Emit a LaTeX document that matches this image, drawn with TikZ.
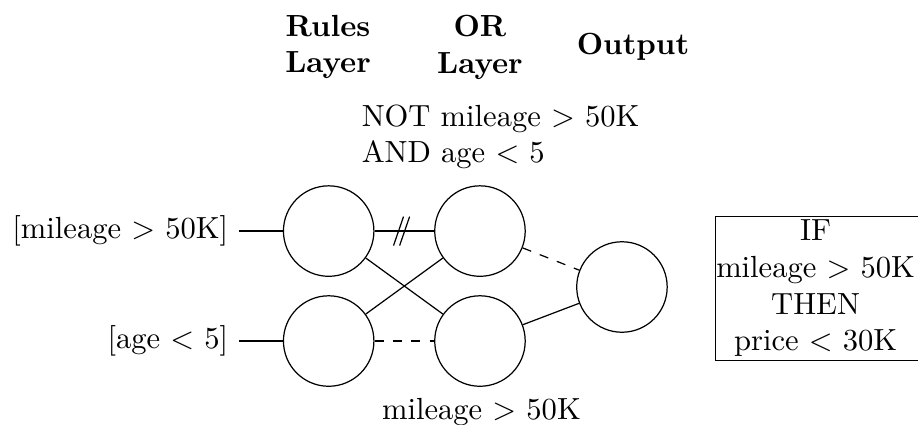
\documentclass[tikz,border=0pt]{standalone}
\usepackage{amsfonts, amsmath, amsthm}
\usetikzlibrary{arrows}
\tikzset{
    vertex/.style={circle,draw,minimum size=1.04cm},
    edge/.style={-, draw=black},
    nedge/.style={-, dashed, draw=black},
    head/.style={align=center, font=\bfseries},
    rule/.style={align=center, inner xsep=0pt, inner ysep=1pt},
}
\begin{document}
\begin{tikzpicture}
\useasboundingbox (0,0) rectangle (10.552,4.874);
\node[head] (h1) at (3.77,4.333) {Rules\\Layer};
\node[head] (h2) at (5.517,4.333) {OR\\Layer};
\node[head] (h3) at (7.276,4.333) {Output};
\node[align=left, anchor=west] (t1) at (4.034,3.299) {NOT mileage $>$ 50K\\AND age $<$ 5};
\node[vertex] (r1) at (3.778,2.218) {};
\node[vertex] (o1) at (5.517,2.218) {};
\node[vertex] (r2) at (3.778,0.954) {};
\node[vertex] (o2) at (5.517,0.954) {};
\node[vertex] (out) at (7.149,1.575) {};
\node[anchor=east] (x1) at (2.747,2.218) {[mileage $>$ 50K]};
\node[anchor=east] (x2) at (2.747,0.954) {[age $<$ 5]};
\node (t2) at (5.534,0.138) {mileage $>$ 50K};
\node[rule, anchor=west] (box) at (8.226,1.559) {IF\\mileage $>$ 50K\\THEN\\price $<$ 30K};
\draw (box.north west) rectangle ([xshift=0.1cm]box.south east);
\draw[edge] (x1) --(r1);
\draw[edge] (x2) --(r2);
\draw[edge] (r1) -- coordinate[pos=0.45] (m) (o1);
\draw[edge] ([shift={(-0.09,-0.167)}]m) -- ++(0.115,0.333);
\draw[edge] ([shift={(-0.02,-0.167)}]m) -- ++(0.115,0.333);
\draw[edge] (r1) --(o2);
\draw[edge] (r2) --(o1);
\draw[nedge] (r2) --(o2);
\draw[nedge] (o1) --(out);
\draw[edge] (o2) --(out);
\end{tikzpicture}
\end{document}
